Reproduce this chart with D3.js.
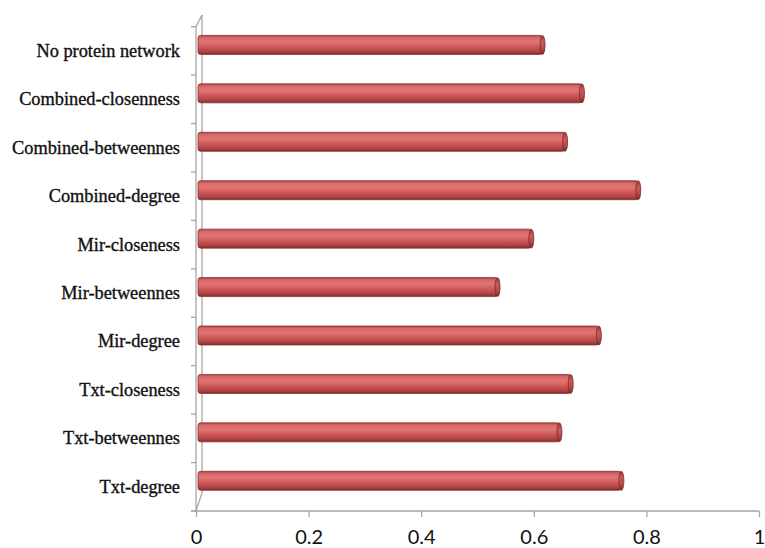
<!DOCTYPE html>
<html>
<head>
<meta charset="utf-8">
<script src="https://cdn.jsdelivr.net/npm/d3@7"></script>
<style>
  html, body { margin: 0; padding: 0; background: #fff; }
  svg { display: block; }
</style>
</head>
<body>
<svg id="chart" width="765" height="548"></svg>
<script>
// ---- data ----
const categories = [
  "No protein network",
  "Combined-closenness",
  "Combined-betweennes",
  "Combined-degree",
  "Mir-closeness",
  "Mir-betweennes",
  "Mir-degree",
  "Txt-closeness",
  "Txt-betweennes",
  "Txt-degree"
];
const values = [0.62, 0.69, 0.66, 0.79, 0.60, 0.54, 0.72, 0.67, 0.65, 0.76];
const xTicks = [0, 0.2, 0.4, 0.6, 0.8, 1];
const xTickLabels = ["0", "0.2", "0.4", "0.6", "0.8", "1"];

// ---- layout ----
const frontX = 196, backDX = 6;
const plotTop = 26.7, plotBottom = 511;
const svg = d3.select("#chart");

const x = d3.scaleLinear().domain([0, 1]).range([frontX, 759]);
const y = d3.scaleBand().domain(categories).range([plotTop, plotBottom]).paddingInner(0).paddingOuter(0);

const axisColor = "#a6a6a6";

// gradient for cylinder bars
const defs = svg.append("defs");
const grad = defs.append("linearGradient").attr("id", "barGrad")
  .attr("x1", 0).attr("y1", 0).attr("x2", 0).attr("y2", 1);
[[0, "#a84444"], [0.12, "#d86868"], [0.35, "#e27575"], [0.6, "#cf5858"], [0.85, "#b04444"], [1, "#7e2a2a"]]
  .forEach(([o, c]) => grad.append("stop").attr("offset", o).attr("stop-color", c));
const capGrad = defs.append("linearGradient").attr("id", "capGrad")
  .attr("x1", 0).attr("y1", 0).attr("x2", 0).attr("y2", 1);
[[0, "#9a3a3a"], [0.35, "#cc5a5a"], [0.7, "#b54848"], [1, "#7a2828"]]
  .forEach(([o, c]) => capGrad.append("stop").attr("offset", o).attr("stop-color", c));

// back wall (3D) lines
const wall = svg.append("g").attr("stroke", axisColor).attr("fill", "none").attr("stroke-width", 1.3);
wall.append("line").attr("x1", frontX + backDX).attr("x2", frontX + backDX).attr("y1", 15).attr("y2", 493);
wall.append("line").attr("x1", frontX).attr("y1", plotTop).attr("x2", frontX + backDX).attr("y2", 15);
wall.append("line").attr("x1", frontX).attr("y1", plotBottom).attr("x2", frontX + backDX).attr("y2", 493);

// y axis (front)
const yAxis = d3.axisLeft(y).tickSize(0).tickFormat("");
const gy = svg.append("g").attr("transform", `translate(${frontX},0)`).call(yAxis);
gy.select(".domain").attr("stroke", axisColor).attr("stroke-width", 1.3).attr("d", `M0,${plotTop}V${plotBottom}`);
const bounds = categories.map(c => y(c)).concat([plotBottom]);
gy.selectAll(".bnd").data(bounds).join("line").attr("class", "bnd")
  .attr("x1", -5).attr("x2", 0).attr("y1", d => d).attr("y2", d => d)
  .attr("stroke", axisColor).attr("stroke-width", 1.3);

// x axis
const xAxis = d3.axisBottom(x).tickValues(xTicks).tickSize(6).tickFormat((d, i) => xTickLabels[i]);
const gx = svg.append("g").attr("transform", `translate(0,${plotBottom})`).call(xAxis);
gx.select(".domain").attr("stroke", axisColor).attr("stroke-width", 1.3).attr("d", `M${frontX - 5},0H${x(1)}`);
gx.selectAll(".tick line").attr("stroke", axisColor).attr("stroke-width", 1.3);
gx.selectAll(".tick text").attr("fill", "#111").attr("font-family", "Lato, 'Open Sans', sans-serif")
  .attr("font-size", 20).attr("dy", 0).attr("y", 33);

// category labels
const labels = svg.append("g").selectAll("text").data(categories).join("text")
  .attr("x", 180).attr("y", d => y(d) + y.bandwidth() / 2)
  .attr("text-anchor", "end").attr("dominant-baseline", "central")
  .attr("font-family", "'Liberation Serif', serif")
  .attr("font-size", 17.5)
  .attr("fill", "#111").attr("stroke", "#111").attr("stroke-width", 0.35)
  .text(d => d);
// match label width to reference ("Combined-closenness" ≈ 161px)
const ref = labels.filter(d => d === "Combined-closenness").node().getComputedTextLength();
labels.attr("font-size", 17.5 * 161 / ref);

// bars
const barH = 19, barShift = -6, capW = 5;
const bars = svg.append("g").selectAll("g").data(categories).join("g");
bars.append("rect")
  .attr("x", frontX + 2)
  .attr("y", d => y(d) + y.bandwidth() / 2 + barShift - barH / 2)
  .attr("width", (d, i) => x(values[i]) - (frontX + 2) - capW / 2)
  .attr("height", barH)
  .attr("rx", 2.5)
  .attr("fill", "url(#barGrad)")
  .attr("stroke", "#8a3333").attr("stroke-width", 0.8);
bars.append("ellipse")
  .attr("cx", (d, i) => x(values[i]) - capW / 2)
  .attr("cy", d => y(d) + y.bandwidth() / 2 + barShift)
  .attr("rx", capW / 2).attr("ry", barH / 2)
  .attr("fill", "url(#capGrad)")
  .attr("stroke", "#7a2a2a").attr("stroke-width", 0.8);
</script>
</body>
</html>
